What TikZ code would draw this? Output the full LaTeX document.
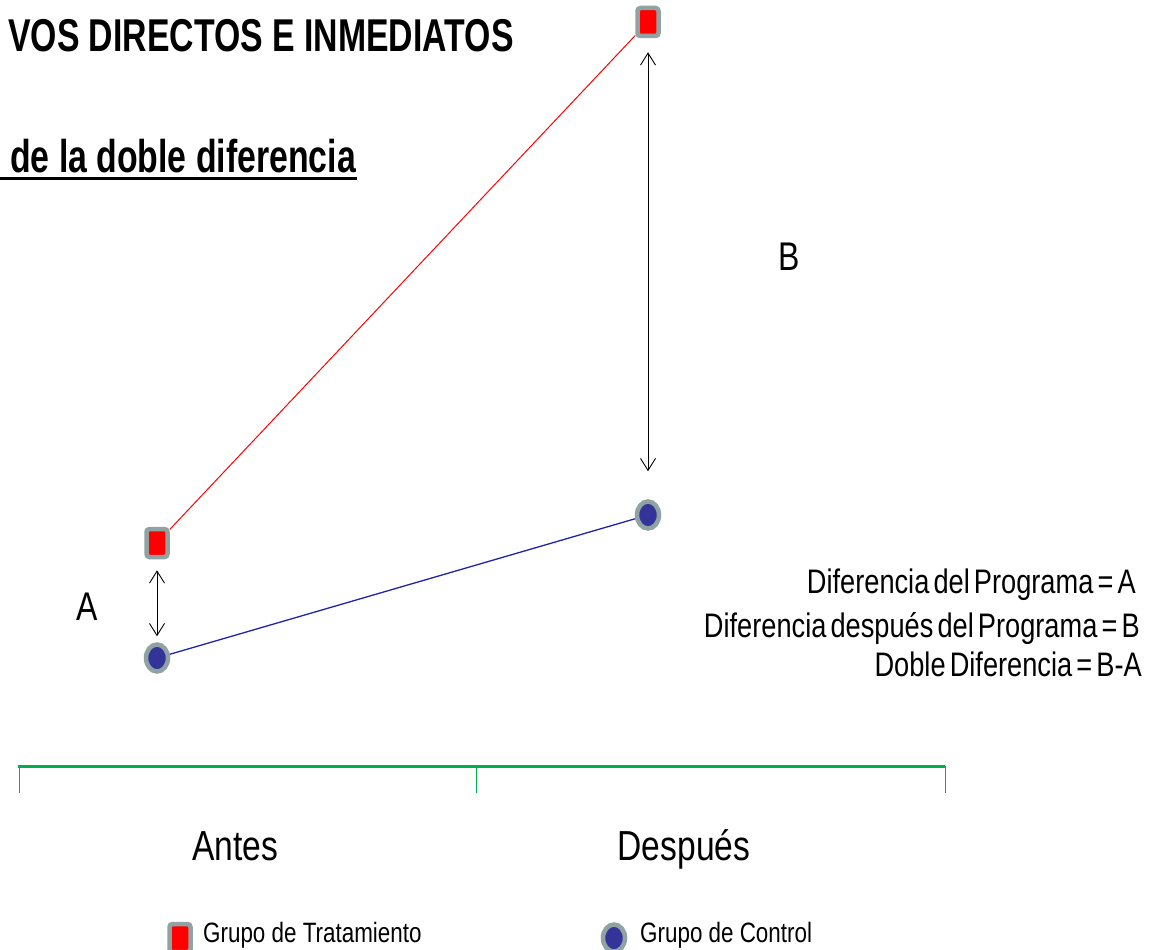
\documentclass[tikz,border=0pt]{standalone}
\usepackage{fontspec}
\setmainfont[FakeStretch=0.80]{Liberation Sans}
\newfontfamily\headfont[FakeStretch=0.735]{Liberation Sans Bold}
\newfontfamily\notefont[FakeStretch=0.80,WordSpace=0.55]{Liberation Sans}
\usetikzlibrary{shapes.geometric,arrows.meta}
\definecolor{rimgray}{HTML}{8FA3A3}
\definecolor{ctrlblue}{HTML}{333399}
\definecolor{lineblue}{HTML}{2222AA}
\definecolor{axisgreen}{HTML}{00B050}
\tikzset{
  treat/.style={rectangle,rounded corners=3pt,draw=rimgray,line width=4.5pt,
    fill=red,minimum width=21pt,minimum height=28pt,inner sep=0pt},
  ctrl/.style={ellipse,draw=rimgray,line width=4.5pt,fill=ctrlblue,
    minimum width=22pt,minimum height=27pt,inner sep=0pt},
  gap/.style={{Straight Barb[length=12pt,width=15pt]}-{Straight Barb[length=12pt,width=15pt]},line width=0.9pt},
  fs/.style={font=\fontsize{#1}{#1}\selectfont}
}
\begin{document}
\begin{tikzpicture}[x=1pt, y=-1pt]
\useasboundingbox (0,0) rectangle (1149,950);
\fill[white] (0,0) rectangle (1149,950);

% titles
\node[fs=46,anchor=base west,inner sep=0pt] (title) at (8,52){\headfont VOS DIRECTOS E INMEDIATOS};
\node[fs=46,anchor=base west,inner sep=0pt] (sub) at (10,172){\headfont de la doble diferencia};
\draw[line width=3pt] (0,178) -- (357,178);

% groups
\node[treat] (t1) at (157,543){};
\node[treat] (t2) at (648,22){};
\node[ctrl] (c1) at (157,658){};
\node[ctrl] (c2) at (648,515){};
\draw[red,line width=1pt] (t1) -- (t2);
\draw[lineblue,line width=1.3pt] (c1) -- (c2);

% differences
\draw[gap,shorten <=11pt,shorten >=6pt] (t1.south) -- (c1.north);
\draw[gap,shorten <=14pt,shorten >=28pt] (t2.south) -- (c2.north);
\node[fs=40] (la) at (87,607){A};
\node[fs=40] (lb) at (789,257){B};

\node[fs=34,anchor=base east,inner sep=0pt] (d1) at (1136,593){\notefont Diferencia del Programa = A};
\node[fs=34,anchor=base east,inner sep=0pt] (d2) at (1140,637){\notefont Diferencia despu\'es del Programa = B};
\node[fs=34,anchor=base east,inner sep=0pt] (d3) at (1142,676){\notefont Doble Diferencia = B-A};

% time axis
\draw[axisgreen,line width=3pt] (18,766) -- (945,766);
\foreach \x in {19,476,945}
{
  \draw[axisgreen,line width=1pt] (\x,766) -- (\x,793);
}
\node[fs=42,anchor=base] (antes) at (235,860){Antes};
\node[fs=42,anchor=base] (despues) at (684,860){Despu\'es};

% legend
\node[treat] (lt) at (180,938){};
\node[fs=28,anchor=west,inner sep=0pt] (ltx) at (203,935){Grupo de Tratamiento};
\node[ctrl] (lc) at (614,938){};
\node[fs=28,anchor=west,inner sep=0pt] (lcx) at (640,935){Grupo de Control};

\end{tikzpicture}
\end{document}
